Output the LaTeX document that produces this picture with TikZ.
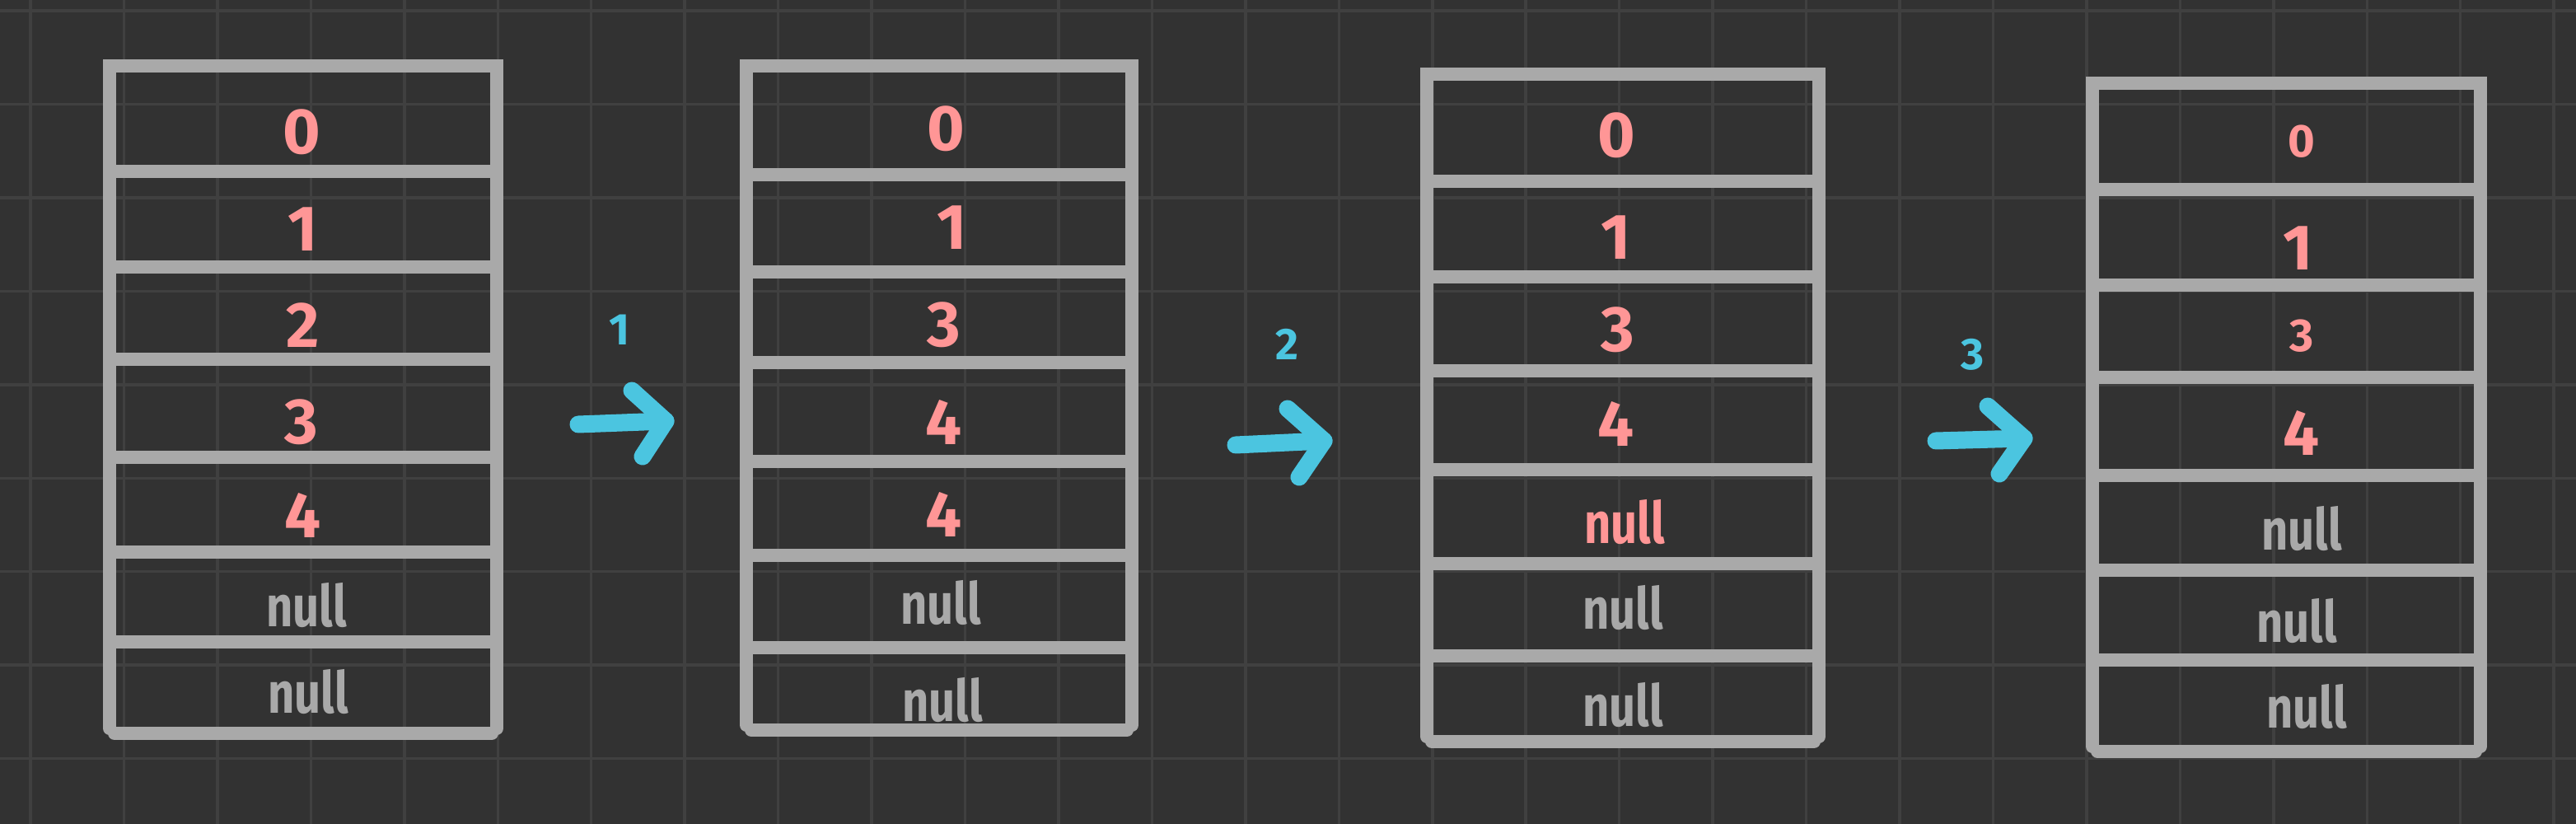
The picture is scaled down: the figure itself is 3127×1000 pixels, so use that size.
\documentclass[tikz,border=0pt]{standalone}
\usepackage{fontspec}
\setmainfont{Fira Sans}
\definecolor{bg}{HTML}{323232}
\definecolor{gridc}{HTML}{404040}
\definecolor{boxc}{HTML}{A9A9A9}
\definecolor{pinkc}{HTML}{FF9696}
\definecolor{bluec}{HTML}{4BC5E0}
\tikzset{
  boxline/.style={draw=boxc, line width=16pt, line cap=round},
  gridline/.style={draw=gridc, line width=3.5pt},
  val/.style={text=pinkc, font=\fontsize{78}{78}\selectfont\bfseries, inner sep=0pt},
  valsmall/.style={text=pinkc, font=\fontsize{56}{56}\selectfont\bfseries, inner sep=0pt},
  nul/.style={text=boxc, font=\fontsize{70}{70}\selectfont\bfseries, inner sep=0pt, xscale=0.8},
  nulpink/.style={nul, text=pinkc},
  arr/.style={draw=bluec, line width=21pt, line cap=round, line join=round},
  arrlab/.style={text=bluec, font=\fontsize{54}{54}\selectfont\bfseries, inner sep=0pt}
}
\newcommand\memblock[5]{%
  \draw[boxline] ({#1},{#4-6}) -- ({#1},{#3}) -- ({#2},{#3}) -- ({#2},{#4-6});
  \draw[boxline] ({#1+6},{#4}) -- ({#2-6},{#4});
  \foreach \yy in {#5} \draw[boxline] ({#1},{\yy}) -- ({#2-8},{\yy});
}
\begin{document}
\begin{tikzpicture}[x=1pt,y=-1pt]
\fill[bg] (0,0) rectangle (3127,1000);
\useasboundingbox (0,0) rectangle (3127,1000);
\foreach \i in {0,...,27} \draw[gridline] ({37+113.45*\i},0) -- ({37+113.45*\i},1000);
\foreach \j in {0,...,8} \draw[gridline] (0,{13+113.45*\j}) -- (3127,{13+113.45*\j});

% blocks
\memblock{133}{603}{80}{890}{208,324,436,555,670,779}
\memblock{906}{1374}{80}{886}{212,330,440,560,674,786}
\memblock{1732}{2208}{90}{900}{220,336,450,570,684,796}
\memblock{2540}{3011}{101}{912}{230,346,458,577,692,801}

% block 1
\node[val] (a0) at (366,160) {0};
\node[val] (a1) at (368,278) {1};
\node[val] (a2) at (368,395) {2};
\node[val] (a3) at (366,512) {3};
\node[val] (a4) at (368,625) {4};
\node[nul] (a5) at (372,735) {null};
\node[nul] (a6) at (374,840) {null};

% block 2
\node[val] (b0) at (1148,156) {0};
\node[val] (b1) at (1156,276) {1};
\node[val] (b2) at (1146,394) {3};
\node[val] (b3) at (1146,512) {4};
\node[val] (b4) at (1146,624) {4};
\node[nul] (b5) at (1142,732) {null};
\node[nul] (b6) at (1144,850) {null};

% block 3
\node[val] (c0) at (1962,164) {0};
\node[val] (c1) at (1962,288) {1};
\node[val] (c2) at (1964,400) {3};
\node[val] (c3) at (1962,514) {4};
\node[nulpink] (c4) at (1972,634) {null};
\node[nul] (c5) at (1970,738) {null};
\node[nul] (c6) at (1970,856) {null};

% block 4
\node[valsmall] (d0) at (2794,172) {0};
\node[val] (d1) at (2790,301) {1};
\node[valsmall] (d2) at (2794,408) {3};
\node[val] (d3) at (2794,525) {4};
\node[nul] (d4) at (2794,642) {null};
\node[nul] (d5) at (2788,754) {null};
\node[nul] (d6) at (2800,858) {null};

% arrows
\coordinate (p1s) at (702,515); \coordinate (p1e) at (808,511);
\coordinate (p1u) at (767,474); \coordinate (p1d) at (780,554);
\draw[arr] (p1s) -- (p1e);
\draw[arr] (p1u) -- (p1e) -- (p1d);
\node[arrlab] (l1) at (752,400) {1};

\coordinate (p2s) at (1500,540); \coordinate (p2e) at (1607,535);
\coordinate (p2u) at (1563,496); \coordinate (p2d) at (1577,579);
\draw[arr] (p2s) -- (p2e);
\draw[arr] (p2u) -- (p2e) -- (p2d);
\node[arrlab] (l2) at (1562,418) {2};

\coordinate (p3s) at (2350,535); \coordinate (p3e) at (2457,532);
\coordinate (p3u) at (2413,493); \coordinate (p3d) at (2427,575);
\draw[arr] (p3s) -- (p3e);
\draw[arr] (p3u) -- (p3e) -- (p3d);
\node[arrlab] (l3) at (2395,430) {3};
\end{tikzpicture}
\end{document}
